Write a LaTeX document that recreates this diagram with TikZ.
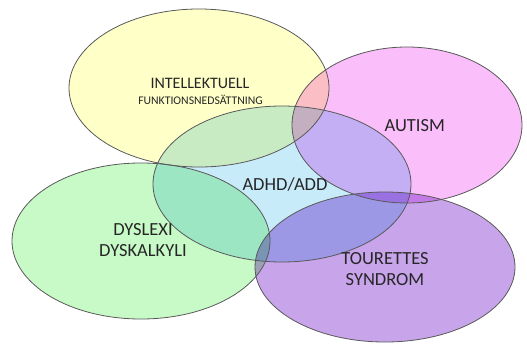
\documentclass[tikz,border=0pt]{standalone}
\usepackage{fontspec}
\setmainfont{Carlito}
\usepackage{tikz}

\definecolor{gulIF}{RGB}{255,255,200}
\definecolor{rosaAU}{RGB}{250,190,250}
\definecolor{blaAD}{RGB}{200,235,250}
\definecolor{gronDY}{RGB}{200,250,200}
\definecolor{lilaTS}{RGB}{200,165,235}

\tikzset{
  kant/.style={line width=0.8pt, draw=black!65},
  yta/.style={blend mode=multiply},
  etikett/.style={align=center, inner sep=0pt, text=black!85, font=\fontsize{18.5}{21}\selectfont},
}

\begin{document}
\begin{tikzpicture}[x=1pt, y=-1pt]
            \useasboundingbox (0, 0) rectangle (527, 343);
            \fill[yta, fill=gulIF] (199, 88) ellipse (130 and 79);
            \fill[yta, fill=rosaAU] (407, 125) ellipse (115 and 78);
            \fill[yta, fill=blaAD] (282, 184) ellipse (129 and 78);
            \fill[yta, fill=gronDY] (141, 241) ellipse (129 and 78);
            \fill[yta, fill=lilaTS] (385, 267) ellipse (130 and 75);
            \draw[kant] (199, 88) ellipse (130 and 79);
            \draw[kant] (407, 125) ellipse (115 and 78);
            \draw[kant] (282, 184) ellipse (129 and 78);
            \draw[kant] (141, 241) ellipse (129 and 78);
            \draw[kant] (385, 267) ellipse (130 and 75);
            \node[etikett, font=\fontsize{16}{18}\selectfont] (intellektuell) at (200, 83.3) {INTELLEKTUELL};
            \node[etikett, font=\fontsize{11.7}{13}\selectfont, anchor=base] (funktion) at (200.5, 104) {FUNKTIONSNEDSÄTTNING};
            \node[etikett] (autism) at (414.7, 125.5) {AUTISM};
            \node[etikett] (adhd) at (285, 184.7) {ADHD/ADD};
            \node[etikett] (dyslexi) at (143, 240.5) {DYSLEXI\\DYSKALKYLI};
            \node[etikett] (tourettes) at (385, 269) {TOURETTES\\SYNDROM};
        \end{tikzpicture}
\end{document}
